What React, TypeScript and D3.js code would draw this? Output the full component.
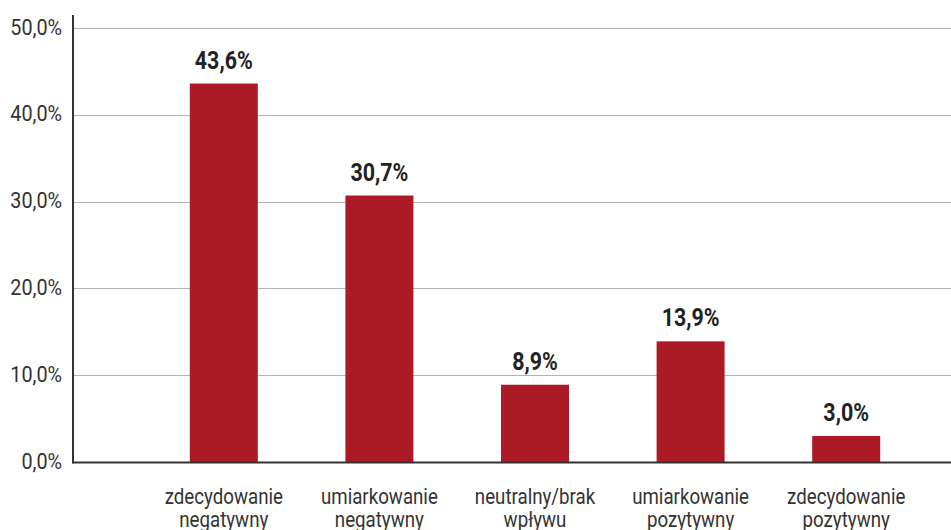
import React from "react";
import * as d3 from "d3";

const categories: string[][] = [
  ["zdecydowanie", "negatywny"],
  ["umiarkowanie", "negatywny"],
  ["neutralny/brak", "wpływu"],
  ["umiarkowanie", "pozytywny"],
  ["zdecydowanie", "pozytywny"],
];
const values: number[] = [43.6, 30.7, 8.9, 13.9, 3.0];
const yTicks: number[] = [0, 10, 20, 30, 40, 50];

const W = 951;
const H = 530;
const axisX = 73;
const fmt = (v: number) => v.toFixed(1).replace(".", ",") + "%";

export default function App() {
  const y = d3.scaleLinear().domain([0, 50]).range([462, 28]);
  const x = d3
    .scaleBand<number>()
    .domain(d3.range(values.length))
    .range([146, 924])
    .paddingInner(0.56)
    .paddingOuter(0.28);
  const bw = 68;
  const font = "Roboto, 'DejaVu Sans', sans-serif";
  return (
    <svg
      width={W}
      height={H}
      style={{ position: "absolute", left: 0, top: 0, background: "#fff" }}
    >
      {yTicks.map((t) => (
        <g key={t}>
          {t > 0 && (
            <line
              x1={axisX}
              x2={W}
              y1={Math.round(y(t)) + 0.5}
              y2={Math.round(y(t)) + 0.5}
              stroke="#b3b3b3"
              strokeWidth={1}
            />
          )}
          <text
            transform={`translate(62,${y(t) + 6.5}) scale(0.9,1)`}
            textAnchor="end"
            fontFamily={font}
            fontSize={22}
            fill="#333"
          >
            {fmt(t)}
          </text>
        </g>
      ))}
      {values.map((v, i) => {
        const cx = (x(i) as number) + x.bandwidth() / 2;
        return (
          <g key={i}>
            <rect
              x={cx - bw / 2}
              y={y(v)}
              width={bw}
              height={y(0) - y(v)}
              fill="#ab1a25"
            />
            <text
              transform={`translate(${cx},${y(v) - 15}) scale(0.84,1)`}
              textAnchor="middle"
              fontFamily={font}
              fontWeight={700}
              fontSize={25.5}
              fill="#222"
            >
              {fmt(v)}
            </text>
            {categories[i].map((line, j) => (
              <text
                key={j}
                transform={`translate(${cx},${504 + j * 23}) scale(0.85,1)`}
                textAnchor="middle"
                fontFamily={font}
                fontSize={22}
                fill="#333"
              >
                {line}
              </text>
            ))}
          </g>
        );
      })}
      <line x1={axisX} x2={W} y1={462.5} y2={462.5} stroke="#333" strokeWidth={2} />
      <line x1={axisX} x2={axisX} y1={15} y2={463.5} stroke="#333" strokeWidth={2} />
    </svg>
  );
}
